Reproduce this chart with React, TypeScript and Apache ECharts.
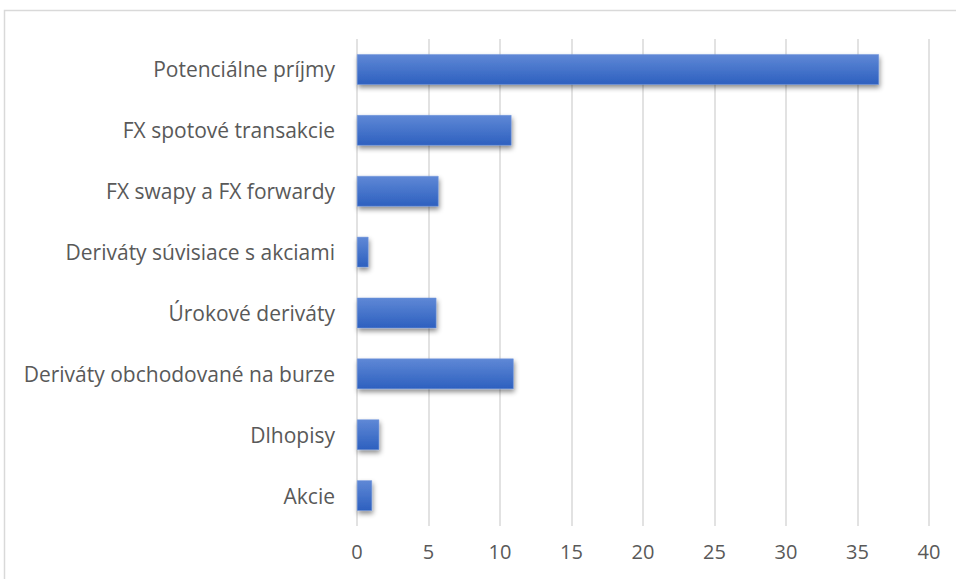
import React, { useEffect, useRef } from "react";
import * as echarts from "echarts";

const categories = [
  "Potenciálne príjmy",
  "FX spotové transakcie",
  "FX swapy a FX forwardy",
  "Deriváty súvisiace s akciami",
  "Úrokové deriváty",
  "Deriváty obchodované na burze",
  "Dlhopisy",
  "Akcie",
];
const values = [36.5, 10.8, 5.7, 0.8, 5.55, 10.95, 1.55, 1.05];
const xTicks = { min: 0, max: 40, interval: 5 };

export default function App() {
  const ref = useRef<HTMLDivElement>(null);
  useEffect(() => {
    const chart = echarts.init(ref.current!, null, { renderer: "svg" });
    chart.setOption({
      animation: false,
      backgroundColor: "#ffffff",
      graphic: [
        {
          type: "rect",
          shape: { x: 4.5, y: 10.5, width: 1200, height: 1200 },
          style: { fill: "none", stroke: "#d9d9d9", lineWidth: 1.5 },
          silent: true,
        },
      ],
      grid: { left: 357, right: 27, top: 39, bottom: 53, containLabel: false },
      xAxis: {
        type: "value",
        min: xTicks.min,
        max: xTicks.max,
        interval: xTicks.interval,
        axisLine: { show: false },
        axisTick: { show: false },
        splitLine: { show: true, lineStyle: { color: "#d9d9d9", width: 1.5 } },
        axisLabel: {
          color: "#595959",
          fontSize: 20,
          fontFamily: "Open Sans",
          margin: 15,
        },
      },
      yAxis: {
        type: "category",
        data: categories,
        inverse: true,
        axisLine: { show: false },
        axisTick: { show: false },
        axisLabel: {
          color: "#595959",
          fontSize: 21,
          fontFamily: "Open Sans",
          margin: 22,
        },
      },
      series: [
        {
          type: "bar",
          data: values,
          barCategoryGap: "50%",
          itemStyle: {
            color: new echarts.graphic.LinearGradient(0, 0, 0, 1, [
              { offset: 0, color: "#5f88d6" },
              { offset: 1, color: "#2d60bf" },
            ]),
            borderColor: "#7396dc",
            borderWidth: 0.5,
            shadowBlur: 5,
            shadowOffsetX: 1,
            shadowOffsetY: 3,
            shadowColor: "rgba(0,0,0,0.45)",
          },
        },
      ],
    });
    return () => chart.dispose();
  }, []);
  return (
    <div
      ref={ref}
      style={{ position: "absolute", left: 0, top: 0, width: 956, height: 579 }}
    />
  );
}
